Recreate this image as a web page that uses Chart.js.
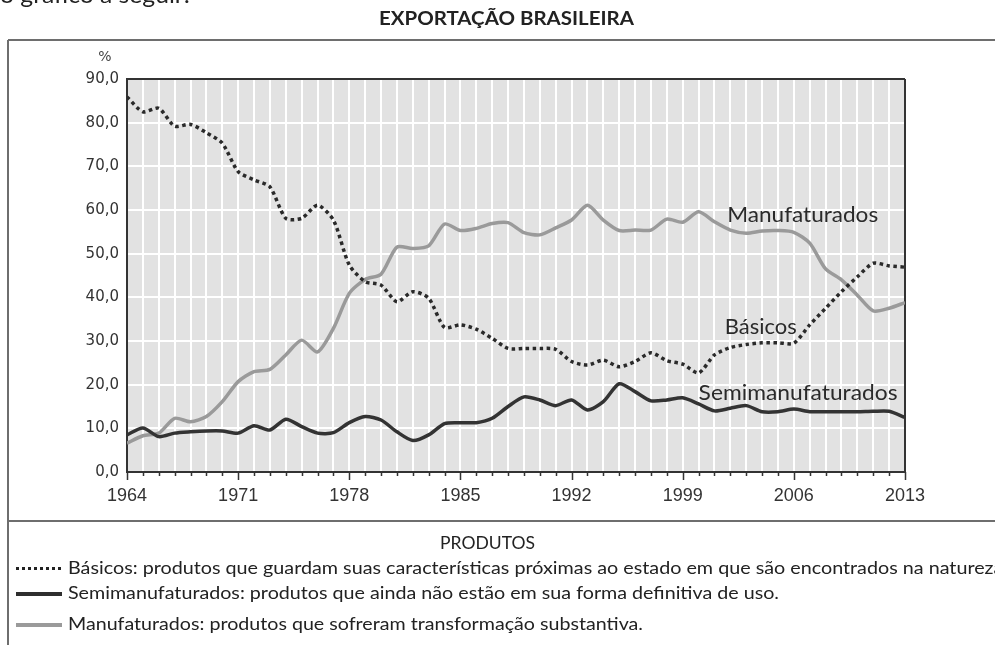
<!DOCTYPE html>
<html>
<head>
<meta charset="utf-8">
<script src="https://cdn.jsdelivr.net/npm/chart.js@4.4.1/dist/chart.umd.min.js"></script>
<style>
  html, body { margin: 0; padding: 0; background: #fff; }
  #wrap { position: relative; width: 995px; height: 645px; overflow: hidden; }
  #c { position: absolute; left: 0; top: 0; }
  .txt { position: absolute; white-space: nowrap; font-family: Lato, "Open Sans", sans-serif; font-size: 18px; line-height: 1; color: #222; transform-origin: 0 0; }
  .sample { position: absolute; left: 16px; width: 46px; }
</style>
</head>
<body>
<div id="wrap">
  <canvas id="c" width="995" height="645"></canvas>
  <div class="txt" style="left:0; top:-18px; font-size:24px; color:#222" data-w="190">o gráfico a seguir:</div>
  <div class="txt" style="left:379px; top:8px; font-size:19px; font-weight:bold" data-w="255">EXPORTAÇÃO BRASILEIRA</div>
  <div class="txt" style="left:440px; top:533px" data-w="95">PRODUTOS</div>
  <div class="sample" style="top:567px; height:3px; background:repeating-linear-gradient(90deg,#222 0 3px,transparent 3px 6px)"></div>
  <div class="txt" style="left:68px; top:558px" data-w="940">Básicos: produtos que guardam suas características próximas ao estado em que são encontrados na natureza.</div>
  <div class="sample" style="top:592px; height:4px; background:#2e2e2e"></div>
  <div class="txt" style="left:68px; top:583px" data-w="711">Semimanufaturados: produtos que ainda não estão em sua forma definitiva de uso.</div>
  <div class="sample" style="top:623px; height:4px; background:#9a9a9a"></div>
  <div class="txt" style="left:68px; top:614px" data-w="575">Manufaturados: produtos que sofreram transformação substantiva.</div>
</div>
<script>
// Exportação brasileira por fator agregado (% do total), 1964-2013
var years = [1964, 1965, 1966, 1967, 1968, 1969, 1970, 1971, 1972, 1973,
             1974, 1975, 1976, 1977, 1978, 1979, 1980, 1981, 1982, 1983,
             1984, 1985, 1986, 1987, 1988, 1989, 1990, 1991, 1992, 1993,
             1994, 1995, 1996, 1997, 1998, 1999, 2000, 2001, 2002, 2003,
             2004, 2005, 2006, 2007, 2008, 2009, 2010, 2011, 2012, 2013];
var basicos = [85.9, 82.5, 83.3, 79.2, 79.6, 77.7, 75.3, 68.8, 66.9, 65.3,
               58.1, 58.1, 61.1, 57.7, 47.4, 43.6, 42.8, 39.0, 41.3, 39.8,
               33.1, 33.7, 32.7, 30.6, 28.3, 28.3, 28.3, 28.1, 25.3, 24.5,
               25.6, 24.1, 25.3, 27.3, 25.5, 24.7, 22.7, 26.8, 28.5, 29.2,
               29.6, 29.6, 29.5, 33.7, 37.5, 41.3, 44.7, 47.8, 47.2, 46.9];
var semimanufaturados = [8.5, 10.1, 8.1, 8.9, 9.2, 9.4, 9.4, 8.9, 10.6, 9.6,
                         12.1, 10.4, 8.9, 9.0, 11.3, 12.7, 11.9, 9.2, 7.2, 8.5,
                         11.1, 11.3, 11.3, 12.3, 15.0, 17.2, 16.5, 15.2, 16.5, 14.2,
                         16.1, 20.2, 18.4, 16.3, 16.5, 17.0, 15.6, 14.0, 14.6, 15.2,
                         13.8, 13.8, 14.4, 13.8, 13.8, 13.8, 13.8, 13.9, 13.9, 12.5];
var manufaturados = [6.6, 8.3, 8.9, 12.3, 11.5, 12.7, 16.1, 20.7, 23.0, 23.5,
                     26.8, 30.2, 27.5, 32.9, 40.9, 44.1, 45.3, 51.5, 51.2, 51.8,
                     56.8, 55.3, 55.8, 56.9, 57.1, 54.8, 54.3, 55.9, 57.7, 61.1,
                     57.7, 55.3, 55.4, 55.4, 57.9, 57.2, 59.6, 57.3, 55.4, 54.7,
                     55.2, 55.3, 54.9, 52.4, 46.5, 44.0, 40.5, 36.9, 37.5, 38.8];
var xTickLabels = [1964, 1971, 1978, 1985, 1992, 1999, 2006, 2013];
var yTicks = [0, 10, 20, 30, 40, 50, 60, 70, 80, 90];

// rótulos das séries dentro do gráfico: [texto, ano inicial, valor, largura alvo]
var seriesLabels = [
  ['Manufaturados', 2001.8, 58.9, 151],
  ['Básicos', 2001.65, 33.2, 72],
  ['Semimanufaturados', 2000.0, 18.1, 199]
];

function pts(arr) {
  return years.map(function (y, i) { return { x: y, y: arr[i] }; });
}

var decor = {
  id: 'decor',
  beforeDraw: function (chart) {
    var a = chart.chartArea, ctx = chart.ctx;
    ctx.save();
    ctx.fillStyle = '#e2e2e2';
    ctx.fillRect(a.left, a.top, a.right - a.left, a.bottom - a.top);
    ctx.restore();
  },
  beforeDatasetsDraw: function (chart) {
    var a = chart.chartArea, ctx = chart.ctx, xs = chart.scales.x;
    ctx.save();
    ctx.strokeStyle = '#333';
    ctx.lineWidth = 2;
    ctx.beginPath();
    ctx.moveTo(a.left, a.top); ctx.lineTo(a.right, a.top);
    ctx.moveTo(a.right, a.top); ctx.lineTo(a.right, a.bottom);
    ctx.stroke();
    // marcas do eixo x: uma por ano, maiores nos anos rotulados
    ctx.lineWidth = 1.5;
    ctx.beginPath();
    years.forEach(function (y) {
      var px = Math.round(xs.getPixelForValue(y)) + 0.5;
      var len = xTickLabels.indexOf(y) >= 0 ? 8 : 4;
      ctx.moveTo(px, a.bottom); ctx.lineTo(px, a.bottom + len);
    });
    ctx.stroke();
    // unidade
    ctx.fillStyle = '#444';
    ctx.font = '14px "DejaVu Sans"';
    ctx.textAlign = 'center';
    ctx.textBaseline = 'middle';
    ctx.fillText('%', a.left - 22, a.top - 22);
    // moldura
    ctx.strokeStyle = '#6e6e6e';
    ctx.lineWidth = 2;
    ctx.beginPath();
    ctx.moveTo(8, 40); ctx.lineTo(995, 40);
    ctx.moveTo(8, 40); ctx.lineTo(8, 645);
    ctx.moveTo(8, 521); ctx.lineTo(995, 521);
    ctx.stroke();
    ctx.restore();
  },
  afterDatasetsDraw: function (chart) {
    var ctx = chart.ctx, xs = chart.scales.x, ys = chart.scales.y;
    ctx.save();
    ctx.fillStyle = '#2a2a2a';
    ctx.font = '22px Lato, "Open Sans", sans-serif';
    ctx.textBaseline = 'middle';
    ctx.textAlign = 'left';
    seriesLabels.forEach(function (l) {
      var w = ctx.measureText(l[0]).width;
      ctx.save();
      ctx.translate(xs.getPixelForValue(l[1]), ys.getPixelForValue(l[2]));
      ctx.scale(l[3] / w, 1);
      ctx.fillText(l[0], 0, 0);
      ctx.restore();
    });
    ctx.restore();
  }
};

new Chart(document.getElementById('c'), {
  type: 'line',
  data: {
    datasets: [
      { label: 'Básicos', data: pts(basicos), borderColor: '#2a2a2a', borderWidth: 3.5,
        borderDash: [3.5, 3.5], borderCapStyle: 'butt', tension: 0.25, pointRadius: 0 },
      { label: 'Semimanufaturados', data: pts(semimanufaturados), borderColor: '#333', borderWidth: 3.5,
        tension: 0.25, pointRadius: 0 },
      { label: 'Manufaturados', data: pts(manufaturados), borderColor: '#9a9a9a', borderWidth: 3.5,
        tension: 0.25, pointRadius: 0 }
    ]
  },
  options: {
    responsive: false,
    animation: false,
    devicePixelRatio: 1,
    layout: { padding: { left: 0, top: 79, right: 90, bottom: 133 } },
    plugins: { legend: { display: false }, tooltip: { enabled: false }, title: { display: false } },
    scales: {
      x: {
        type: 'linear', min: 1964, max: 2013,
        afterFit: function (s) { s.height = 40; },
        afterBuildTicks: function (s) { s.ticks = years.map(function (y) { return { value: y }; }); },
        grid: { color: '#fff', lineWidth: 2, drawTicks: false },
        border: { display: true, color: '#333', width: 2 },
        ticks: {
          autoSkip: false, maxRotation: 0, padding: 13, color: '#333',
          font: { family: '"Liberation Sans", Arial, sans-serif', size: 18 },
          callback: function (v) { return xTickLabels.indexOf(v) >= 0 ? String(v) : ''; }
        }
      },
      y: {
        min: 0, max: 90,
        afterFit: function (s) { s.width = 127; },
        afterBuildTicks: function (s) { s.ticks = yTicks.map(function (v) { return { value: v }; }); },
        grid: { color: '#fff', lineWidth: 2, drawTicks: false },
        border: { display: true, color: '#333', width: 2 },
        ticks: {
          padding: 8, color: '#333',
          font: { family: '"DejaVu Sans", Verdana, sans-serif', size: 15 },
          callback: function (v) { return v.toFixed(1).replace('.', ','); }
        }
      }
    }
  },
  plugins: [decor]
});

// ajusta a largura dos textos fixos (fonte substituta mais larga que a original)
document.querySelectorAll('[data-w]').forEach(function (el) {
  el.style.transform = 'none';
  var w = el.getBoundingClientRect().width;
  el.style.transform = 'scaleX(' + (el.dataset.w / w) + ')';
});
</script>
</body>
</html>
